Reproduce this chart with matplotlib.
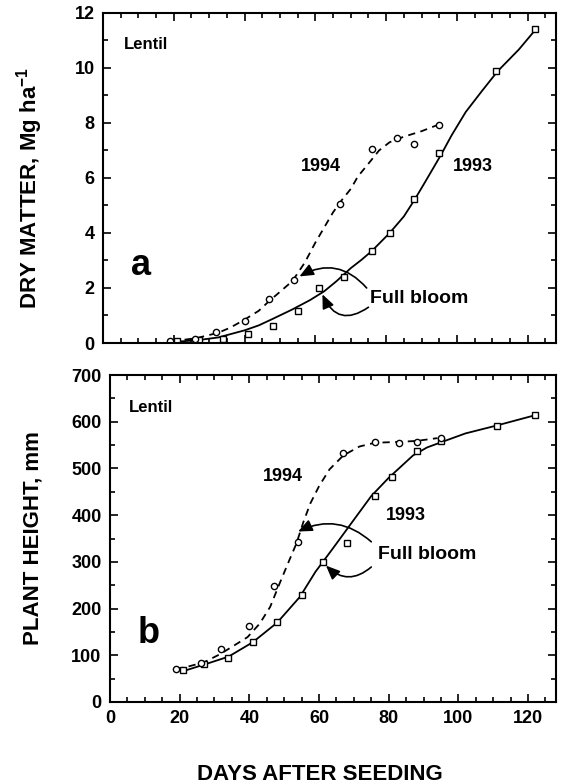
import matplotlib
matplotlib.use('Agg')
import matplotlib.pyplot as plt
from matplotlib.ticker import MultipleLocator

plt.rcParams['font.family'] = ['Liberation Sans', 'DejaVu Sans']
plt.rcParams['font.weight'] = 'bold'
plt.rcParams['mathtext.fontset'] = 'custom'
plt.rcParams['mathtext.rm'] = 'Liberation Sans:bold'
plt.rcParams['mathtext.bf'] = 'Liberation Sans:bold'
plt.rcParams['mathtext.default'] = 'bf'

# measured points (days after seeding)
days_93 = [21, 27, 34, 41, 48, 55, 61, 68, 76, 81, 88, 95, 111, 122]
dm_93 = [0.07, 0.12, 0.15, 0.33, 0.6, 1.17, 2.0, 2.4, 3.35, 4.0, 5.25, 6.9, 9.9, 11.4]
ht_93 = [68, 82, 94, 129, 171, 230, 300, 340, 442, 482, 537, 558, 590, 614]

days_94 = [19, 26, 32, 40, 47, 54, 67, 76, 83, 88, 95]
dm_94 = [0.07, 0.16, 0.4, 0.8, 1.6, 2.28, 5.07, 7.06, 7.45, 7.23, 7.94]
ht_94 = [71, 84, 114, 163, 249, 343, 533, 556, 555, 557, 565]

# fitted curves
fit93_dm_days = [20, 26.5, 32.5, 40, 44, 48, 53.5, 58.5, 62.5, 66, 70, 73, 76, 81, 85, 88,
                 91, 95.5, 98.5, 102.5, 107, 111.5, 117.5, 122]
fit93_dm = [0.04, 0.1, 0.2, 0.46, 0.64, 0.88, 1.22, 1.56, 1.88, 2.25, 2.72, 3.02, 3.35, 4.0,
            4.6, 5.2, 5.85, 6.84, 7.55, 8.4, 9.15, 9.88, 10.67, 11.36]
fit94_dm_days = [19.5, 26.5, 32.5, 36, 40, 44, 47, 50, 53.5, 57, 60, 62.5, 65, 67.5,
                 70, 72, 75.5, 78, 81, 85, 90, 95]
fit94_dm = [0.06, 0.18, 0.37, 0.56, 0.85, 1.17, 1.53, 1.86, 2.25, 2.92, 3.65, 4.2, 4.75, 5.2,
            5.6, 6.05, 6.6, 7.0, 7.3, 7.5, 7.7, 7.95]

fit93_ht_days = [21, 27, 34, 41, 48, 54.5, 59, 64, 69, 75, 80, 87, 91, 95, 102, 111, 122]
fit93_ht = [66, 80, 97, 128, 170, 225, 279, 329, 380, 441, 480, 528, 545, 556, 575, 592, 614]
fit94_ht_days = [19, 22, 27, 31.5, 35, 39.5, 43, 46, 48.7, 51.5, 53.5, 55.5, 57.5, 60,
                 63, 67, 71.6, 76, 83, 88, 94]
fit94_ht = [71, 75, 85, 102, 118, 139, 168, 204, 254, 304, 339, 385, 425, 462, 498, 528,
            547, 555, 557, 559, 565]

fig = plt.figure(figsize=(5.61, 7.84), dpi=100)
ax1 = fig.add_axes([0.1836, 0.5625, 0.8075, 0.421])
ax2 = fig.add_axes([0.196, 0.1046, 0.795, 0.417])

arrow = dict(arrowstyle='-|>,head_length=0.7,head_width=0.3', color='black', lw=1.2,
             mutation_scale=12, shrinkA=0, shrinkB=0)


def style_axes(ax):
    ax.set_xlim(0, 128)
    ax.xaxis.set_major_locator(MultipleLocator(20))
    ax.xaxis.set_minor_locator(MultipleLocator(5))
    ax.tick_params(which='both', direction='in', top=True, right=True, width=1.2,
                   labelsize=13, pad=6)
    ax.tick_params(which='major', length=6)
    ax.tick_params(which='minor', length=3.5)
    for s in ax.spines.values():
        s.set_linewidth(1.5)
    for lab in ax.get_xticklabels() + ax.get_yticklabels():
        lab.set_fontweight('bold')


# panel a: dry matter
ax1.plot(fit93_dm_days, fit93_dm, '-', color='black', lw=1.3)
ax1.plot(fit94_dm_days, fit94_dm, '--', color='black', lw=1.3, dashes=(4, 3))
ax1.plot(days_93, dm_93, 's', ms=4.5, mfc='white', mec='black', mew=1)
ax1.plot(days_94, dm_94, 'o', ms=4.5, mfc='white', mec='black', mew=1)
ax1.set_ylim(0, 12)
ax1.yaxis.set_major_locator(MultipleLocator(2))
ax1.yaxis.set_minor_locator(MultipleLocator(1))
style_axes(ax1)
ax1.tick_params(labelbottom=False)
ax1.set_ylabel(r'DRY MATTER, Mg ha$^{-1}$', fontsize=16, fontweight='bold')
ax1.yaxis.set_label_coords(-0.127, 0.47)
ax1.text(6, 10.85, 'Lentil', fontsize=12, fontweight='bold', va='center')
ax1.text(8, 2.8, 'a', fontsize=26, fontweight='bold', va='center')
ax1.text(61.5, 6.4, '1994', fontsize=13, fontweight='bold', ha='center', va='center')
ax1.text(104.5, 6.4, '1993', fontsize=13, fontweight='bold', ha='center', va='center')
ax1.text(75.5, 1.6, 'Full bloom', fontsize=14, fontweight='bold', va='center')
ax1.annotate('', xy=(55.5, 2.42), xytext=(74.5, 2.0),
             arrowprops=dict(arrow, connectionstyle='arc3,rad=0.4'))
ax1.annotate('', xy=(62, 1.77), xytext=(75, 1.3),
             arrowprops=dict(arrow, connectionstyle='arc3,rad=-0.6'))

# panel b: plant height
ax2.plot(fit93_ht_days, fit93_ht, '-', color='black', lw=1.3)
ax2.plot(fit94_ht_days, fit94_ht, '--', color='black', lw=1.3, dashes=(4, 3))
ax2.plot(days_93, ht_93, 's', ms=4.5, mfc='white', mec='black', mew=1)
ax2.plot(days_94, ht_94, 'o', ms=4.5, mfc='white', mec='black', mew=1)
ax2.set_ylim(0, 700)
ax2.yaxis.set_major_locator(MultipleLocator(100))
ax2.yaxis.set_minor_locator(MultipleLocator(50))
style_axes(ax2)
ax2.set_ylabel('PLANT HEIGHT, mm', fontsize=16, fontweight='bold')
ax2.yaxis.set_label_coords(-0.148, 0.5)
ax2.set_xlabel('DAYS AFTER SEEDING', fontsize=16, fontweight='bold')
ax2.xaxis.set_label_coords(0.47, -0.19)
ax2.text(5.5, 630, 'Lentil', fontsize=12, fontweight='bold', va='center')
ax2.text(8, 147, 'b', fontsize=26, fontweight='bold', va='center')
ax2.text(49.5, 482, '1994', fontsize=13, fontweight='bold', ha='center', va='center')
ax2.text(85, 400, '1993', fontsize=13, fontweight='bold', ha='center', va='center')
ax2.text(77, 316, 'Full bloom', fontsize=14, fontweight='bold', va='center')
ax2.annotate('', xy=(54, 365), xytext=(75, 343),
             arrowprops=dict(arrow, connectionstyle='arc3,rad=0.33'))
ax2.annotate('', xy=(62, 292), xytext=(75, 289),
             arrowprops=dict(arrow, connectionstyle='arc3,rad=-0.45'))

fig.savefig('out.png', dpi=100)
